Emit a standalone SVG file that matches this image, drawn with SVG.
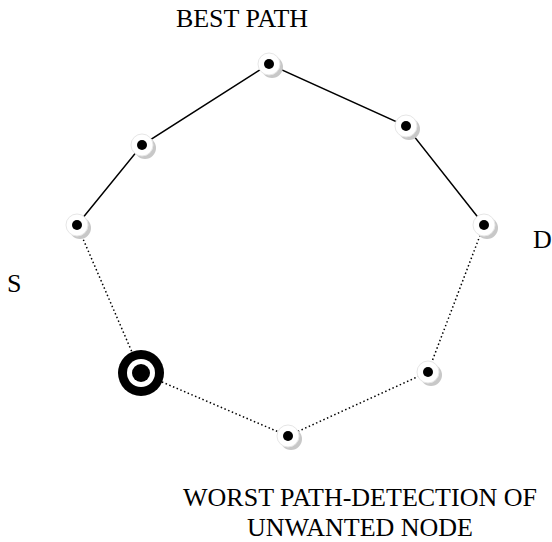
<svg xmlns="http://www.w3.org/2000/svg" width="552" height="542" viewBox="0 0 552 542">
<style>
text{font-family:"Liberation Serif","Times New Roman",serif;font-size:26px;fill:#000}
.solid{stroke:#000;stroke-width:1.5;fill:none}
.dot{stroke:#000;stroke-width:1.5;fill:none;stroke-dasharray:1.5 2.5}
</style>
<defs>
<g id="n">
<circle cx="3" cy="3" r="11" fill="#c8c8c8"/>
<circle cx="0" cy="0" r="11" fill="#fff" stroke="#e6e6e6" stroke-width="1"/>
<circle cx="0" cy="0" r="5" fill="#000"/>
</g>
</defs>
<rect width="552" height="542" fill="#fff"/>
<g id="connectors">
<polyline class="solid" points="77,225 142,145 269,64 406,126 484,225"/>
<polyline class="dot" points="77,225 141,373 288,436 428,372 484,225"/>
</g>
<g id="node1"><use href="#n" x="269" y="64"/></g>
<g id="node2"><use href="#n" x="142" y="145"/></g>
<g id="node3"><use href="#n" x="406" y="126"/></g>
<g id="node4"><use href="#n" x="77" y="225"/></g>
<g id="node5"><use href="#n" x="484" y="225"/></g>
<g id="node6">
<circle cx="141" cy="373" r="23" fill="#000"/>
<circle cx="141" cy="373" r="14" fill="#fff"/>
<circle cx="141" cy="373" r="9" fill="#000"/>
</g>
<g id="node7"><use href="#n" x="428" y="372"/></g>
<g id="node8"><use href="#n" x="288" y="436"/></g>
<g id="labels">
<text x="242" y="27" text-anchor="middle">BEST PATH</text>
<text x="533" y="248">D</text>
<text x="7" y="292">S</text>
<text x="360" y="506" text-anchor="middle">WORST PATH-DETECTION OF</text>
<text x="360" y="536" text-anchor="middle">UNWANTED NODE</text>
</g>
</svg>
